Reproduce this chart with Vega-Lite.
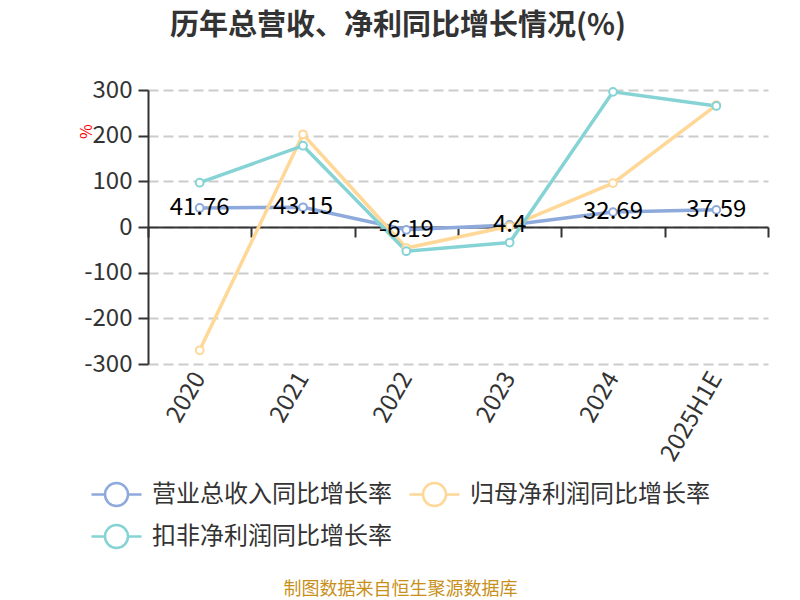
{
  "$schema": "https://vega.github.io/schema/vega-lite/v6.json",
  "width": 620,
  "height": 274,
  "autosize": {"type": "none"},
  "padding": {"left": 148, "top": 90, "right": 32, "bottom": 236},
  "background": "white",
  "config": {"font": "Noto Sans CJK SC", "view": {"stroke": null}},
  "title": {
    "text": "历年总营收、净利同比增长情况(%)",
    "fontSize": 29, "fontWeight": "bold", "color": "#333",
    "anchor": "middle", "frame": "group", "dx": -60, "offset": 37
  },
  "data": {
    "values": [
      {"year": "2020", "series": "营业总收入同比增长率", "value": 41.76},
      {"year": "2021", "series": "营业总收入同比增长率", "value": 43.15},
      {"year": "2022", "series": "营业总收入同比增长率", "value": -6.19},
      {"year": "2023", "series": "营业总收入同比增长率", "value": 4.4},
      {"year": "2024", "series": "营业总收入同比增长率", "value": 32.69},
      {"year": "2025H1E", "series": "营业总收入同比增长率", "value": 37.59},
      {"year": "2020", "series": "归母净利润同比增长率", "value": -270},
      {"year": "2021", "series": "归母净利润同比增长率", "value": 203},
      {"year": "2022", "series": "归母净利润同比增长率", "value": -46},
      {"year": "2023", "series": "归母净利润同比增长率", "value": 1.5},
      {"year": "2024", "series": "归母净利润同比增长率", "value": 96},
      {"year": "2025H1E", "series": "归母净利润同比增长率", "value": 267},
      {"year": "2020", "series": "扣非净利润同比增长率", "value": 97},
      {"year": "2021", "series": "扣非净利润同比增长率", "value": 178},
      {"year": "2022", "series": "扣非净利润同比增长率", "value": -53},
      {"year": "2023", "series": "扣非净利润同比增长率", "value": -34},
      {"year": "2024", "series": "扣非净利润同比增长率", "value": 296},
      {"year": "2025H1E", "series": "扣非净利润同比增长率", "value": 265}
    ]
  },
  "encoding": {
    "x": {
      "field": "year", "type": "ordinal", "sort": null,
      "scale": {"type": "band", "paddingInner": 0, "paddingOuter": 0},
      "axis": {
        "orient": "bottom", "offset": -137,
        "domainColor": "#333", "domainWidth": 2,
        "tickColor": "#333", "tickWidth": 2, "tickSize": 10, "tickBand": "extent",
        "labelAngle": -60, "labelFontSize": 24, "labelColor": "#333", "labelPadding": 137,
        "grid": false,
        "title": "制图数据来自恒生聚源数据库",
        "titleColor": "#c8901a", "titleFontSize": 18, "titleFontWeight": "normal",
        "titleX": 252, "titleY": 362, "titleAlign": "center", "titleBaseline": "middle", "titleAnchor": null
      }
    },
    "y": {
      "field": "value", "type": "quantitative",
      "scale": {"domain": [-300, 300], "nice": false},
      "axis": {
        "values": [-300, -200, -100, 0, 100, 200, 300],
        "labelExpr": "replace(datum.label, '−', '-')",
        "domainColor": "#333", "domainWidth": 2,
        "tickColor": "#333", "tickWidth": 2, "tickSize": 10,
        "labelFontSize": 24, "labelColor": "#333", "labelPadding": 6,
        "grid": true, "gridColor": "#ccc", "gridDash": [10, 5], "gridWidth": 2,
        "title": "%", "titleColor": "red", "titleFontSize": 16, "titleFontWeight": "normal",
        "titleAngle": -90, "titleX": -62, "titleY": 41, "titleAlign": "center", "titleBaseline": "middle"
      }
    }
  },
  "layer": [
    {
      "mark": {"type": "line", "strokeWidth": 3.5},
      "encoding": {
        "color": {
          "field": "series", "type": "nominal",
          "scale": {
            "domain": ["营业总收入同比增长率", "归母净利润同比增长率", "扣非净利润同比增长率"],
            "range": ["#8eaadc", "#ffd797", "#85d3d5"]
          },
          "legend": {
            "values": ["营业总收入同比增长率", "扣非净利润同比增长率", "归母净利润同比增长率"],
            "orient": "none", "legendX": -53, "legendY": 383, "columns": 2, "title": null,
            "symbolType": "M-1.25,0H-0.575M0.575,0H1.25M0.575,0A0.575,0.575 0 1,1 -0.575,0A0.575,0.575 0 1,1 0.575,0",
            "symbolSize": 1600, "symbolStrokeWidth": 2.5, "symbolFillColor": "white",
            "labelFontSize": 24, "labelColor": "#333", "labelOffset": 14, "labelLimit": 400,
            "columnPadding": 12, "rowPadding": 4, "padding": 0
          }
        }
      }
    },
    {
      "mark": {"type": "point", "filled": true, "fill": "white", "strokeWidth": 2, "size": 60, "opacity": 1},
      "encoding": {
        "stroke": {
          "field": "series", "type": "nominal",
          "scale": {
            "domain": ["营业总收入同比增长率", "归母净利润同比增长率", "扣非净利润同比增长率"],
            "range": ["#8eaadc", "#ffd797", "#85d3d5"]
          },
          "legend": null
        }
      }
    },
    {
      "transform": [{"filter": "datum.series === '营业总收入同比增长率'"}],
      "mark": {"type": "text", "fontSize": 24, "color": "black", "baseline": "middle"},
      "encoding": {"text": {"field": "value", "type": "nominal"}}
    }
  ]
}
